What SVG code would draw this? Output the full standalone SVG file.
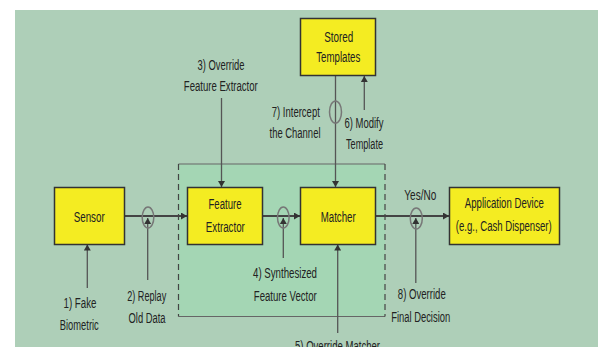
<svg xmlns="http://www.w3.org/2000/svg" width="601" height="347" viewBox="0 0 601 347">
<style>
.t{font-family:"Liberation Sans",Arial,sans-serif;font-size:14px;fill:#222;text-anchor:middle}
.box{fill:#f4ec22;stroke:#333;stroke-width:1.5}
.main{stroke:#444;stroke-width:2;fill:none}
.ln{stroke:#555;stroke-width:1.3;fill:none}
.ring{fill:none;stroke:#777;stroke-width:1.5}
</style>
<defs>
<marker id="ah" markerUnits="userSpaceOnUse" markerWidth="7" markerHeight="7" refX="6" refY="3.5" orient="auto">
<path d="M0,0 L6,3.5 L0,7 z" fill="#333"/>
</marker>
</defs>
<rect x="0" y="0" width="601" height="347" fill="#ffffff"/>
<rect x="15" y="10" width="583" height="337" fill="#aecfb8"/>
<g id="trusted-zone">
<rect x="178.5" y="164" width="206.5" height="152.5" fill="#a4d6b4"/>
<line x1="178.5" y1="164" x2="385" y2="164" stroke="#666" stroke-width="1.2"/>
<line x1="178.5" y1="316.5" x2="385" y2="316.5" stroke="#666" stroke-width="1.2"/>
<line x1="178.5" y1="164" x2="178.5" y2="316.5" stroke="#444" stroke-width="1.2" stroke-dasharray="6,4"/>
<line x1="385" y1="164" x2="385" y2="316.5" stroke="#444" stroke-width="1.2" stroke-dasharray="6,4"/>
</g>
<g id="connectors">
<line class="main" x1="124.5" y1="216" x2="187" y2="216" marker-end="url(#ah)"/>
<line class="main" x1="262.5" y1="216" x2="300" y2="216" marker-end="url(#ah)"/>
<line class="main" x1="376" y1="216" x2="449" y2="216" marker-end="url(#ah)"/>
<line class="ln" x1="87.3" y1="288" x2="87.3" y2="244.5" marker-end="url(#ah)"/>
<line class="ln" x1="147.7" y1="280" x2="147.7" y2="218" marker-end="url(#ah)"/>
<line class="ln" x1="221.5" y1="98" x2="221.5" y2="187" marker-end="url(#ah)"/>
<line class="ln" x1="283.3" y1="258" x2="283.3" y2="218" marker-end="url(#ah)"/>
<line class="ln" x1="335.5" y1="76" x2="335.5" y2="187" marker-end="url(#ah)"/>
<line class="ln" x1="364.3" y1="110" x2="364.3" y2="76" marker-end="url(#ah)"/>
<line class="ln" x1="337.7" y1="333" x2="337.7" y2="244.5" marker-end="url(#ah)"/>
<line class="ln" x1="415.8" y1="283" x2="415.8" y2="218" marker-end="url(#ah)"/>
<ellipse class="ring" cx="148" cy="217.5" rx="5.8" ry="10.5"/>
<ellipse class="ring" cx="283.3" cy="217.5" rx="5.8" ry="10.5"/>
<ellipse class="ring" cx="416.3" cy="218.5" rx="6" ry="10.5"/>
<ellipse class="ring" cx="335.5" cy="112" rx="6" ry="11"/>
</g>
<g id="sensor">
<rect class="box" x="54.5" y="187.5" width="70" height="57"/>
<text class="t" x="89.2" y="221.5" textLength="31" lengthAdjust="spacingAndGlyphs">Sensor</text>
</g>
<g id="feature-extractor">
<rect class="box" x="187.5" y="187.5" width="75" height="57"/>
<text class="t" x="225" y="209" textLength="33" lengthAdjust="spacingAndGlyphs">Feature</text>
<text class="t" x="225.3" y="231.5" textLength="39" lengthAdjust="spacingAndGlyphs">Extractor</text>
</g>
<g id="matcher">
<rect class="box" x="300.5" y="187.5" width="75" height="57"/>
<text class="t" x="338.2" y="221.5" textLength="35" lengthAdjust="spacingAndGlyphs">Matcher</text>
</g>
<g id="stored-templates">
<rect class="box" x="300.5" y="18.5" width="75" height="57"/>
<text class="t" x="338.7" y="41.5" textLength="29" lengthAdjust="spacingAndGlyphs">Stored</text>
<text class="t" x="338.3" y="62" textLength="44" lengthAdjust="spacingAndGlyphs">Templates</text>
</g>
<g id="application-device">
<rect class="box" x="449.5" y="187.5" width="110" height="57"/>
<text class="t" x="504.3" y="208" textLength="79" lengthAdjust="spacingAndGlyphs">Application Device</text>
<text class="t" x="503.7" y="231" textLength="96" lengthAdjust="spacingAndGlyphs">(e.g., Cash Dispenser)</text>
</g>
<g id="labels">
<text class="t" x="221" y="70" textLength="47" lengthAdjust="spacingAndGlyphs">3) Override</text>
<text class="t" x="220.8" y="90.5" textLength="74" lengthAdjust="spacingAndGlyphs">Feature Extractor</text>
<text class="t" x="295.8" y="116.5" textLength="48" lengthAdjust="spacingAndGlyphs">7) Intercept</text>
<text class="t" x="295" y="138" textLength="51" lengthAdjust="spacingAndGlyphs">the Channel</text>
<text class="t" x="364" y="128" textLength="39" lengthAdjust="spacingAndGlyphs">6) Modify</text>
<text class="t" x="364.5" y="149" textLength="37" lengthAdjust="spacingAndGlyphs">Template</text>
<text class="t" x="80" y="308.3" textLength="33" lengthAdjust="spacingAndGlyphs">1) Fake</text>
<text class="t" x="79.3" y="330" textLength="39" lengthAdjust="spacingAndGlyphs">Biometric</text>
<text class="t" x="146.7" y="301" textLength="39" lengthAdjust="spacingAndGlyphs">2) Replay</text>
<text class="t" x="147" y="323" textLength="37" lengthAdjust="spacingAndGlyphs">Old Data</text>
<text class="t" x="285" y="277.5" textLength="64" lengthAdjust="spacingAndGlyphs">4) Synthesized</text>
<text class="t" x="285.3" y="300.5" textLength="63" lengthAdjust="spacingAndGlyphs">Feature Vector</text>
<text class="t" x="337.5" y="351" textLength="85" lengthAdjust="spacingAndGlyphs">5) Override Matcher</text>
<text class="t" x="420.3" y="200" textLength="32" lengthAdjust="spacingAndGlyphs">Yes/No</text>
<text class="t" x="421.8" y="299" textLength="48" lengthAdjust="spacingAndGlyphs">8) Override</text>
<text class="t" x="420.7" y="321.5" textLength="59" lengthAdjust="spacingAndGlyphs">Final Decision</text>
</g>
</svg>
